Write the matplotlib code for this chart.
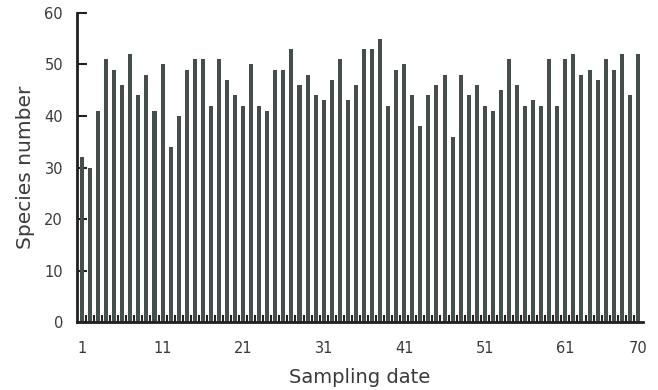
import numpy as np
import matplotlib
matplotlib.use('Agg')
import matplotlib.pyplot as plt

plt.rcParams['font.family'] = ['DejaVu Sans']

# species count per sampling date (1..70)
dates = list(range(1, 71))
species = [32, 30, 41, 51, 49, 46, 52, 44, 48, 41,
           50, 34, 40, 49, 51, 51, 42, 51, 47, 44,
           42, 50, 42, 41, 49, 49, 53, 46, 48, 44,
           43, 47, 51, 43, 46, 53, 53, 55, 42, 49,
           50, 44, 38, 44, 46, 48, 36, 48, 44, 46,
           42, 41, 45, 51, 46, 42, 43, 42, 51, 42,
           51, 52, 48, 49, 47, 51, 49, 52, 44, 52]
xtick_labels = [1, 11, 21, 31, 41, 51, 61, 70]
yticks = [0, 10, 20, 30, 40, 50, 60]

txt_color = '#3a3a3a'

fig = plt.figure(figsize=(6.58, 3.9), dpi=100)
ax = fig.add_axes([0.117, 0.174, 0.860, 0.793])

ax.bar(dates, species, width=0.5, color='#454d4d', zorder=2)

ax.set_xlim(0.38, 70.62)
ax.set_ylim(0, 60)

# category boundary ticks drawn inside
ax.set_xticks(np.arange(1.5, 70.5, 1.0), minor=True)
ax.tick_params(axis='x', which='minor', direction='in', length=5, width=1.5, color='#231f20')
ax.set_xticks(xtick_labels)
ax.set_xticklabels([str(v) for v in xtick_labels])
ax.tick_params(axis='x', which='major', length=0, pad=13.5, labelsize=10.5, labelcolor=txt_color)

ax.set_yticks(yticks)
ax.tick_params(axis='y', direction='in', length=7, width=1.5, color='#231f20',
               pad=10, labelsize=10.5, labelcolor=txt_color)

for s in ['top', 'right']:
    ax.spines[s].set_visible(False)
for s in ['left', 'bottom']:
    ax.spines[s].set_linewidth(2)
    ax.spines[s].set_color('#231f20')

ax.set_xlabel('Sampling date', fontsize=14, labelpad=9, color=txt_color)
ax.set_ylabel('Species number', fontsize=14.5, labelpad=7, color=txt_color)

fig.savefig('out.png', dpi=100)
